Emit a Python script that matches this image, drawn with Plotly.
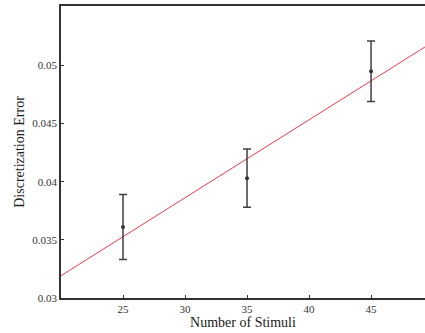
import numpy as np
import plotly.graph_objects as go

# Measured discretization error vs. number of stimuli
stimuli = [25, 35, 45]
mean_error = [0.0361, 0.0403, 0.0495]
error_sd = [0.0028, 0.0025, 0.0026]

x_ticks = [25, 30, 35, 40, 45]
y_ticks = [0.03, 0.035, 0.04, 0.045, 0.05]
y_tick_labels = ["0.03", "0.035", "0.04", "0.045", "0.05"]

x_range = [20, 49.35]
y_range = [0.03, 0.0551]

# Least-squares linear trend through the means
slope, intercept = np.polyfit(stimuli, mean_error, 1)
fit_x = np.array(x_range)
fit_y = slope * fit_x + intercept

fig = go.Figure()

fig.add_trace(go.Scatter(
    x=fit_x, y=fit_y, mode="lines",
    line=dict(color="#f23a4a", width=1),
    showlegend=False, hoverinfo="skip",
))

fig.add_trace(go.Scatter(
    x=stimuli, y=mean_error, mode="markers",
    marker=dict(color="#333333", size=4),
    error_y=dict(type="data", array=error_sd, visible=True,
                 color="#404040", thickness=1.5, width=4),
    showlegend=False,
))

font_family = "Liberation Serif"

fig.update_layout(
    width=425, height=333,
    margin=dict(l=61, r=0, t=6, b=35),
    paper_bgcolor="white", plot_bgcolor="white",
    font=dict(family=font_family, color="#222222", size=11),
    xaxis=dict(
        range=x_range, tickvals=x_ticks,
        showgrid=False, zeroline=False,
        showline=True, linecolor="#333333", linewidth=1.5, mirror=True,
        ticks="inside", ticklen=3, tickwidth=1, tickcolor="#333333",
        tickfont=dict(family=font_family, size=11, color="#333333"),
        title=dict(text="Number of Stimuli", standoff=2,
                   font=dict(family=font_family, size=14, color="#222222")),
    ),
    yaxis=dict(
        range=y_range, tickvals=y_ticks, ticktext=y_tick_labels,
        showgrid=False, zeroline=False,
        showline=True, linecolor="#333333", linewidth=1.5, mirror=False,
        ticks="inside", ticklen=3, tickwidth=1, tickcolor="#333333",
        tickfont=dict(family=font_family, size=11, color="#333333"),
        title=dict(text="Discretization Error", standoff=4,
                   font=dict(family=font_family, size=14, color="#222222")),
    ),
)

fig.write_html("out.html")
